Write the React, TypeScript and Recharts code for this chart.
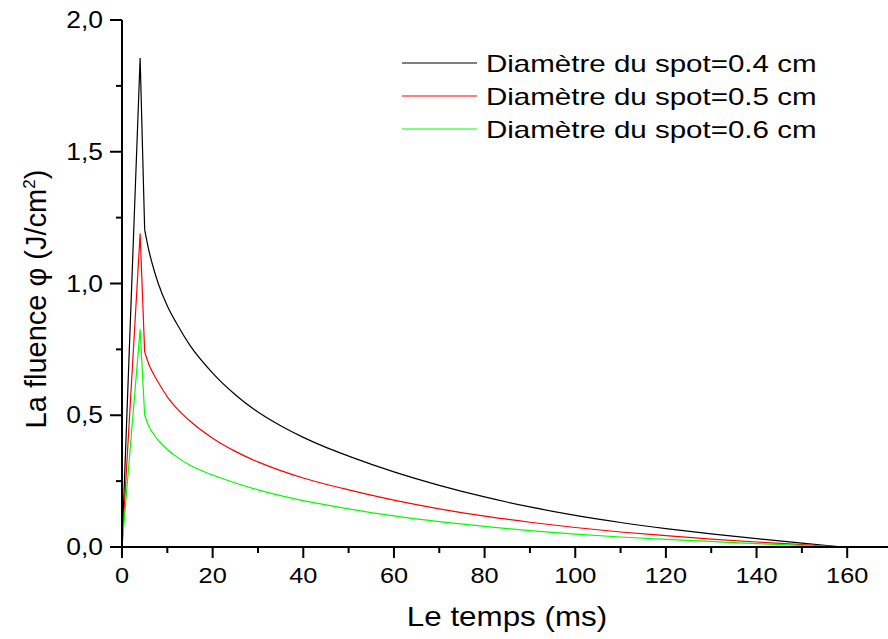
import React from 'react';
import { LineChart, Line, XAxis, YAxis } from 'recharts';

// time in ms, fluence in J/cm2 (first 3 points: rise to the peak and drop)
const times = [0, 4, 5, 6, 7, 8, 10, 12, 15, 20, 25, 30, 35, 40, 45, 50, 60, 70, 80, 90, 100, 110, 120, 130, 140, 150, 159];
const spot04 = [0, 1.856, 1.204, 1.12, 1.055, 1.0, 0.915, 0.85, 0.765, 0.66, 0.578, 0.512, 0.46, 0.416, 0.378, 0.345, 0.285, 0.234, 0.19, 0.152, 0.12, 0.093, 0.07, 0.05, 0.032, 0.015, 0];
const spot05 = [0, 1.19, 0.74, 0.69, 0.655, 0.625, 0.57, 0.528, 0.478, 0.413, 0.363, 0.323, 0.29, 0.262, 0.238, 0.217, 0.178, 0.145, 0.117, 0.094, 0.074, 0.057, 0.043, 0.03, 0.019, 0.009, 0];
const spot06 = [0, 0.826, 0.5, 0.455, 0.428, 0.405, 0.37, 0.343, 0.31, 0.273, 0.243, 0.217, 0.195, 0.176, 0.16, 0.145, 0.118, 0.096, 0.078, 0.062, 0.049, 0.038, 0.029, 0.021, 0.013, 0.006, 0];
const RISE_END = 2; // index where the decay starts

const seriesNames = ['Diamètre du spot=0.4 cm', 'Diamètre du spot=0.5 cm', 'Diamètre du spot=0.6 cm'];
const seriesKeys = ['s04', 's05', 's06'];
const COLORS = ['#000000', '#ff0000', '#00ff00'];

const xTicks = [0, 10, 20, 30, 40, 50, 60, 70, 80, 90, 100, 110, 120, 130, 140, 150, 160];
const yTicks = [0, 0.25, 0.5, 0.75, 1, 1.25, 1.5, 1.75, 2];

const allSeries = [spot04, spot05, spot06];
const data = times.map((t, i) => {
  const row: any = { t };
  seriesKeys.forEach((k, j) => {
    row[k + 'a'] = i <= RISE_END ? allSeries[j][i] : null;
    row[k + 'b'] = i >= RISE_END ? allSeries[j][i] : null;
  });
  return row;
});

const FONT = "'Liberation Sans', Arial, sans-serif";

const XTick = (props: any) => {
  const { x, y, payload } = props;
  const major = payload.value % 20 === 0;
  return (
    <g>
      <line x1={x} y1={y} x2={x} y2={y + (major ? 11 : 6)} stroke="#000" strokeWidth={2} />
      {major && (
        <text transform={`translate(${x},${y + 36}) scale(1.15,1)`} textAnchor="middle" fontSize={22} fontFamily={FONT} fill="#000">
          {payload.value}
        </text>
      )}
    </g>
  );
};

const YTick = (props: any) => {
  const { x, y, payload } = props;
  const v = payload.value;
  const major = Math.abs(v * 2 - Math.round(v * 2)) < 1e-6;
  return (
    <g>
      <line x1={x} y1={y} x2={x - (major ? 12 : 6)} y2={y} stroke="#000" strokeWidth={2} />
      {major && (
        <text transform={`translate(${x - 19},${y + 8}) scale(1.15,1)`} textAnchor="end" fontSize={23} fontFamily={FONT} fill="#000">
          {v.toFixed(1).replace('.', ',')}
        </text>
      )}
    </g>
  );
};

const App: React.FC = () => {
  return (
    <div style={{ position: 'absolute', left: 0, top: 0, width: 888, height: 639, background: '#fff', overflow: 'hidden' }}>
      <LineChart width={888} height={639} data={data} margin={{ top: 20, right: 0, left: 0, bottom: 0 }}>
        <XAxis
          dataKey="t"
          type="number"
          domain={[0, 169]}
          allowDataOverflow
          ticks={xTicks}
          interval={0}
          tickSize={0}
          tickMargin={0}
          tick={<XTick />}
          tickLine={false}
          axisLine={{ stroke: '#000', strokeWidth: 2 }}
          height={92}
        />
        <YAxis
          type="number"
          domain={[0, 2]}
          ticks={yTicks}
          interval={0}
          tickSize={0}
          tickMargin={0}
          tick={<YTick />}
          tickLine={false}
          axisLine={{ stroke: '#000', strokeWidth: 2 }}
          width={122}
        />
        {seriesKeys.map((k, i) => (
          <Line key={k + 'a'} dataKey={k + 'a'} type="linear" stroke={COLORS[i]} strokeWidth={1.2} dot={false} isAnimationActive={false} />
        ))}
        {seriesKeys.map((k, i) => (
          <Line key={k + 'b'} dataKey={k + 'b'} type="monotone" stroke={COLORS[i]} strokeWidth={1.2} dot={false} isAnimationActive={false} />
        ))}
      </LineChart>

      {/* titles and legend */}
      <svg width={888} height={639} style={{ position: 'absolute', left: 0, top: 0, pointerEvents: 'none' }}>
        <text transform="translate(507,626) scale(1.12,1)" textAnchor="middle" fontSize={28} fontFamily={FONT} fill="#000">
          Le temps (ms)
        </text>
        <text transform="translate(46,299) rotate(-90)" textAnchor="middle" fontSize={29} fontFamily={FONT} fill="#000">
          La fluence φ (J/cm<tspan dy={-11} fontSize={17}>2</tspan><tspan dy={11}>)</tspan>
        </text>
        {seriesNames.map((name, i) => (
          <g key={name}>
            <line x1={402} x2={477} y1={63 + i * 33} y2={63 + i * 33} stroke={COLORS[i]} strokeWidth={1.2} />
            <text transform={`translate(486,${72 + i * 33}) scale(1.23,1)`} fontSize={24} fontFamily={FONT} fill="#000">
              {name}
            </text>
          </g>
        ))}
      </svg>
    </div>
  );
};

export default App;
